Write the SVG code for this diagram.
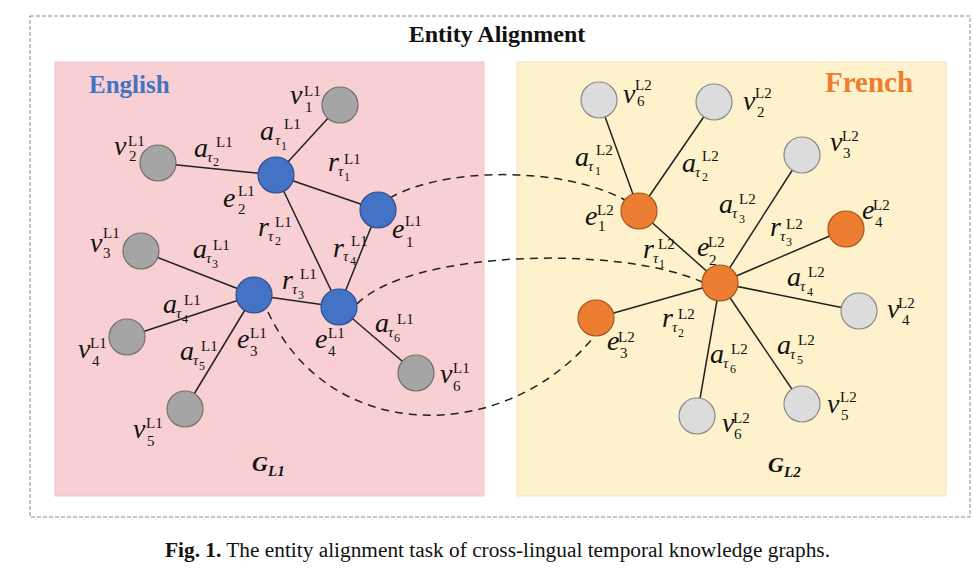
<svg xmlns="http://www.w3.org/2000/svg" width="973" height="568" viewBox="0 0 973 568">
<style>
text{font-family:"Liberation Serif","Times New Roman",serif;fill:#111}
.m{font-size:28px;font-style:italic}
.s{font-size:15px}
.t{font-size:15px;font-style:italic}
.d{font-size:12px}
.edge{stroke:#222;stroke-width:1.5;fill:none}
.align{stroke:#222;stroke-width:1.5;fill:none;stroke-dasharray:8 6}
.blue{fill:#4472c4;stroke:#2f4f8a;stroke-width:1.2}
.gray{fill:#a5a5a5;stroke:#707070;stroke-width:1.2}
.orange{fill:#ed7d31;stroke:#a65522;stroke-width:1.2}
.lgray{fill:#dcdcdc;stroke:#8a8a8a;stroke-width:1.2}
</style>
<rect x="30" y="16" width="940" height="501" fill="#fff" stroke="#8a8a8a" stroke-width="1" stroke-dasharray="4 2"/>
<text x="497" y="42" text-anchor="middle" font-size="24" font-weight="bold">Entity Alignment</text>
<rect x="55" y="62" width="429" height="434" fill="#f8d0d3" stroke="#f0c4c8" stroke-width="1"/>
<rect x="517" y="62" width="429" height="434" fill="#fef2cc" stroke="#f2e4bc" stroke-width="1"/>
<text x="89" y="93" font-size="25" font-weight="bold" style="fill:#4472c4">English</text>
<text x="825" y="92" font-size="29" font-weight="bold" style="fill:#ed7d31">French</text>

<g id="connectors">
<line class="edge" x1="276" y1="175" x2="340" y2="105"/>
<line class="edge" x1="276" y1="175" x2="158" y2="163"/>
<line class="edge" x1="276" y1="175" x2="378" y2="210"/>
<line class="edge" x1="276" y1="175" x2="339" y2="307"/>
<line class="edge" x1="378" y1="210" x2="339" y2="307"/>
<line class="edge" x1="254" y1="295" x2="141" y2="251"/>
<line class="edge" x1="254" y1="295" x2="127" y2="337"/>
<line class="edge" x1="254" y1="295" x2="185" y2="409"/>
<line class="edge" x1="254" y1="295" x2="339" y2="307"/>
<line class="edge" x1="339" y1="307" x2="416" y2="373"/>
<line class="edge" x1="639" y1="211" x2="599" y2="100"/>
<line class="edge" x1="639" y1="211" x2="714" y2="102"/>
<line class="edge" x1="639" y1="211" x2="720" y2="283"/>
<line class="edge" x1="720" y1="283" x2="802" y2="155"/>
<line class="edge" x1="720" y1="283" x2="846" y2="229"/>
<line class="edge" x1="720" y1="283" x2="859" y2="311"/>
<line class="edge" x1="720" y1="283" x2="802" y2="404"/>
<line class="edge" x1="720" y1="283" x2="697" y2="416"/>
<line class="edge" x1="720" y1="283" x2="596" y2="318"/>
<path class="align" d="M390,198 C440,168 560,165 625,200"/>
<path class="align" d="M357,304 C410,250 620,245 702,282"/>
<path class="align" d="M268,312 C330,445 503,445 593,338"/>
</g>

<g id="e1_L1"><circle class="blue" cx="378" cy="210" r="18"/><text class="m" x="392" y="238">e</text><text class="s" x="405" y="226">L1</text><text class="s" x="406" y="247">1</text></g>
<g id="e2_L1"><circle class="blue" cx="276" cy="175" r="18"/><text class="m" x="223" y="207">e</text><text class="s" x="238" y="196">L1</text><text class="s" x="238" y="214">2</text></g>
<g id="e3_L1"><circle class="blue" cx="254" cy="295" r="18"/><text class="m" x="237" y="348">e</text><text class="s" x="250" y="338">L1</text><text class="s" x="250" y="356">3</text></g>
<g id="e4_L1"><circle class="blue" cx="339" cy="307" r="18"/><text class="m" x="315" y="348">e</text><text class="s" x="328" y="338">L1</text><text class="s" x="328" y="356">4</text></g>
<g id="v1_L1"><circle class="gray" cx="340" cy="105" r="18"/><text class="m" x="290" y="104">v</text><text class="s" x="304" y="96">L1</text><text class="s" x="305" y="112">1</text></g>
<g id="v2_L1"><circle class="gray" cx="158" cy="163" r="18"/><text class="m" x="114" y="155">v</text><text class="s" x="128" y="146">L1</text><text class="s" x="129" y="161">2</text></g>
<g id="v3_L1"><circle class="gray" cx="141" cy="251" r="18"/><text class="m" x="90" y="252">v</text><text class="s" x="103" y="238">L1</text><text class="s" x="103" y="258">3</text></g>
<g id="v4_L1"><circle class="gray" cx="127" cy="337" r="18"/><text class="m" x="78" y="358">v</text><text class="s" x="90" y="348">L1</text><text class="s" x="92" y="366">4</text></g>
<g id="v5_L1"><circle class="gray" cx="185" cy="409" r="18"/><text class="m" x="133" y="438">v</text><text class="s" x="146" y="428">L1</text><text class="s" x="147" y="446">5</text></g>
<g id="v6_L1"><circle class="gray" cx="416" cy="373" r="18"/><text class="m" x="440" y="383">v</text><text class="s" x="453" y="373">L1</text><text class="s" x="453" y="391">6</text></g>

<g id="rel_L1">
<text class="m" x="260" y="140">a</text><text class="t" x="275" y="145">τ</text><text class="d" x="281" y="150">1</text><text class="s" x="284" y="129">L1</text>
<text class="m" x="194" y="157">a</text><text class="t" x="207" y="162">τ</text><text class="d" x="213" y="166">2</text><text class="s" x="216" y="147">L1</text>
<text class="m" x="193" y="258">a</text><text class="t" x="206" y="263">τ</text><text class="d" x="212" y="268">3</text><text class="s" x="213" y="250">L1</text>
<text class="m" x="163" y="313">a</text><text class="t" x="176" y="318">τ</text><text class="d" x="182" y="323">4</text><text class="s" x="184" y="305">L1</text>
<text class="m" x="180" y="360">a</text><text class="t" x="193" y="365">τ</text><text class="d" x="199" y="370">5</text><text class="s" x="201" y="351">L1</text>
<text class="m" x="375" y="332">a</text><text class="t" x="388" y="337">τ</text><text class="d" x="394" y="342">6</text><text class="s" x="397" y="324">L1</text>
<text class="m" x="328" y="171">r</text><text class="t" x="338" y="176">τ</text><text class="d" x="344" y="181">1</text><text class="s" x="344" y="164">L1</text>
<text class="m" x="258" y="236">r</text><text class="t" x="268" y="241">τ</text><text class="d" x="275" y="245">2</text><text class="s" x="275" y="227">L1</text>
<text class="m" x="282" y="289">r</text><text class="t" x="292" y="294">τ</text><text class="d" x="298" y="299">3</text><text class="s" x="300" y="279">L1</text>
<text class="m" x="333" y="257">r</text><text class="t" x="343" y="261">τ</text><text class="d" x="350" y="265">4</text><text class="s" x="351" y="246">L1</text>
</g>

<g id="e1_L2"><circle class="orange" cx="639" cy="211" r="18"/><text class="m" x="585" y="225">e</text><text class="s" x="597" y="215">L2</text><text class="s" x="598" y="231">1</text></g>
<g id="e2_L2"><circle class="orange" cx="720" cy="283" r="18"/><text class="m" x="697" y="256">e</text><text class="s" x="708" y="247">L2</text><text class="s" x="709" y="265">2</text></g>
<g id="e3_L2"><circle class="orange" cx="596" cy="318" r="18"/><text class="m" x="607" y="350">e</text><text class="s" x="618" y="342">L2</text><text class="s" x="620" y="358">3</text></g>
<g id="e4_L2"><circle class="orange" cx="846" cy="229" r="18"/><text class="m" x="862" y="219">e</text><text class="s" x="873" y="210">L2</text><text class="s" x="875" y="227">4</text></g>
<g id="v6_L2_top"><circle class="lgray" cx="599" cy="100" r="18"/><text class="m" x="623" y="103">v</text><text class="s" x="635" y="90">L2</text><text class="s" x="637" y="106">6</text></g>
<g id="v2_L2"><circle class="lgray" cx="714" cy="102" r="18"/><text class="m" x="743" y="110">v</text><text class="s" x="755" y="98">L2</text><text class="s" x="757" y="117">2</text></g>
<g id="v3_L2"><circle class="lgray" cx="802" cy="155" r="18"/><text class="m" x="830" y="151">v</text><text class="s" x="842" y="141">L2</text><text class="s" x="843" y="158">3</text></g>
<g id="v4_L2"><circle class="lgray" cx="859" cy="311" r="18"/><text class="m" x="887" y="318">v</text><text class="s" x="898" y="308">L2</text><text class="s" x="902" y="325">4</text></g>
<g id="v5_L2"><circle class="lgray" cx="802" cy="404" r="18"/><text class="m" x="827" y="413">v</text><text class="s" x="840" y="402">L2</text><text class="s" x="841" y="420">5</text></g>
<g id="v6_L2_bottom"><circle class="lgray" cx="697" cy="416" r="18"/><text class="m" x="722" y="432">v</text><text class="s" x="733" y="423">L2</text><text class="s" x="734" y="439">6</text></g>

<g id="rel_L2">
<text class="m" x="575" y="166">a</text><text class="t" x="588" y="171">τ</text><text class="d" x="595" y="175">1</text><text class="s" x="596" y="155">L2</text>
<text class="m" x="682" y="172">a</text><text class="t" x="695" y="177">τ</text><text class="d" x="702" y="181">2</text><text class="s" x="702" y="161">L2</text>
<text class="m" x="719" y="213">a</text><text class="t" x="732" y="218">τ</text><text class="d" x="739" y="223">3</text><text class="s" x="739" y="204">L2</text>
<text class="m" x="787" y="286">a</text><text class="t" x="800" y="291">τ</text><text class="d" x="807" y="296">4</text><text class="s" x="808" y="277">L2</text>
<text class="m" x="777" y="354">a</text><text class="t" x="790" y="359">τ</text><text class="d" x="797" y="364">5</text><text class="s" x="798" y="345">L2</text>
<text class="m" x="710" y="363">a</text><text class="t" x="723" y="368">τ</text><text class="d" x="730" y="373">6</text><text class="s" x="731" y="354">L2</text>
<text class="m" x="643" y="258">r</text><text class="t" x="653" y="263">τ</text><text class="d" x="659" y="268">1</text><text class="s" x="658" y="249">L2</text>
<text class="m" x="662" y="327">r</text><text class="t" x="672" y="332">τ</text><text class="d" x="678" y="337">2</text><text class="s" x="678" y="319">L2</text>
<text class="m" x="770" y="236">r</text><text class="t" x="780" y="241">τ</text><text class="d" x="786" y="246">3</text><text class="s" x="786" y="229">L2</text>
</g>

<text x="252" y="471" font-size="22" font-weight="bold" font-style="italic">G</text><text x="268" y="476" font-size="15" font-weight="bold" font-style="italic">L1</text>
<text x="768" y="472" font-size="22" font-weight="bold" font-style="italic">G</text><text x="784" y="477" font-size="15" font-weight="bold" font-style="italic">L2</text>

<text x="165" y="557" font-size="20" textLength="665" lengthAdjust="spacingAndGlyphs"><tspan font-weight="bold">Fig. 1.</tspan>  The entity alignment task of cross-lingual temporal knowledge graphs.</text>
</svg>
